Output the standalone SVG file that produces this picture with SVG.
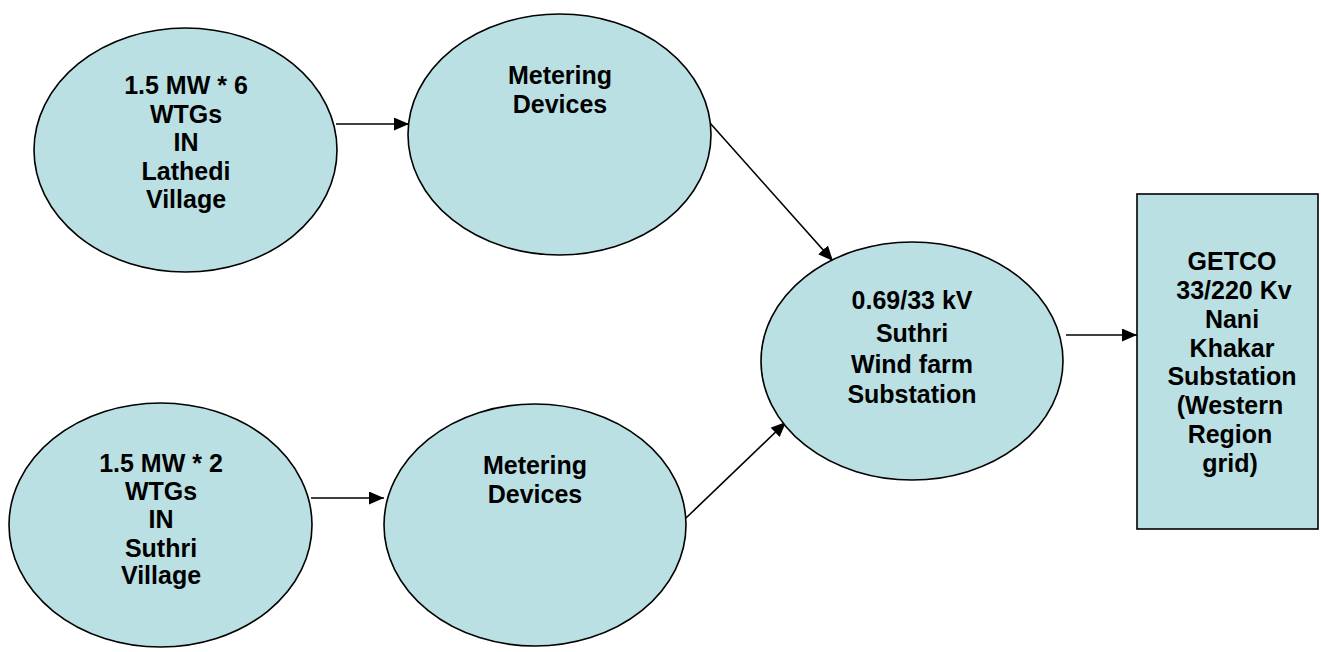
<svg xmlns="http://www.w3.org/2000/svg" width="1321" height="652" viewBox="0 0 1321 652">
<style>
.n{fill:#BBE0E3;stroke:#000;stroke-width:1.6}
.t{font-family:"Liberation Sans",Arial,sans-serif;font-weight:bold;font-size:25px;fill:#000;text-anchor:middle}
.c{stroke:#000;stroke-width:1.6;fill:none;marker-end:url(#ah)}
</style>
<defs>
<marker id="ah" markerUnits="userSpaceOnUse" markerWidth="16" markerHeight="14" refX="15" refY="6.5" orient="auto">
<path d="M0,0 L15,6.5 L0,13 z" fill="#000"/>
</marker>
</defs>
<rect width="1321" height="652" fill="#fff"/>
<g id="connectors">
<line class="c" x1="336" y1="124" x2="409" y2="124"/>
<line class="c" x1="311" y1="498" x2="384" y2="498"/>
<line class="c" x1="710" y1="123" x2="833" y2="261"/>
<line class="c" x1="686" y1="518" x2="786" y2="422"/>
<line class="c" x1="1066" y1="335" x2="1137" y2="335"/>
</g>
<g id="lathedi">
<ellipse class="n" cx="185.5" cy="150" rx="151.5" ry="122"/>
<text class="t" x="186" y="94">1.5 MW * 6</text>
<text class="t" x="186" y="123">WTGs</text>
<text class="t" x="186" y="151">IN</text>
<text class="t" x="186" y="180">Lathedi</text>
<text class="t" x="186" y="208">Village</text>
</g>
<g id="meter-top">
<ellipse class="n" cx="559.5" cy="134.5" rx="151.5" ry="120.5"/>
<text class="t" x="560" y="84">Metering</text>
<text class="t" x="560" y="113">Devices</text>
</g>
<g id="suthri">
<ellipse class="n" cx="160.5" cy="525" rx="151.5" ry="122"/>
<text class="t" x="161" y="472">1.5 MW * 2</text>
<text class="t" x="161" y="500">WTGs</text>
<text class="t" x="161" y="528">IN</text>
<text class="t" x="161" y="557">Suthri</text>
<text class="t" x="161" y="584">Village</text>
</g>
<g id="meter-bottom">
<ellipse class="n" cx="535" cy="525" rx="151" ry="121"/>
<text class="t" x="535" y="474">Metering</text>
<text class="t" x="535" y="503">Devices</text>
</g>
<g id="substation">
<ellipse class="n" cx="912" cy="361" rx="151" ry="119"/>
<text class="t" x="912" y="309">0.69/33 kV</text>
<text class="t" x="912" y="342">Suthri</text>
<text class="t" x="912" y="373">Wind farm</text>
<text class="t" x="912" y="403">Substation</text>
</g>
<g id="getco">
<rect class="n" x="1137" y="194" width="181" height="335"/>
<text class="t" x="1232" y="270">GETCO</text>
<text class="t" x="1234" y="299">33/220 Kv</text>
<text class="t" x="1232" y="328">Nani</text>
<text class="t" x="1232" y="357">Khakar</text>
<text class="t" x="1232" y="385">Substation</text>
<text class="t" x="1230" y="414">(Western</text>
<text class="t" x="1230" y="443">Region</text>
<text class="t" x="1230" y="472">grid)</text>
</g>
</svg>
